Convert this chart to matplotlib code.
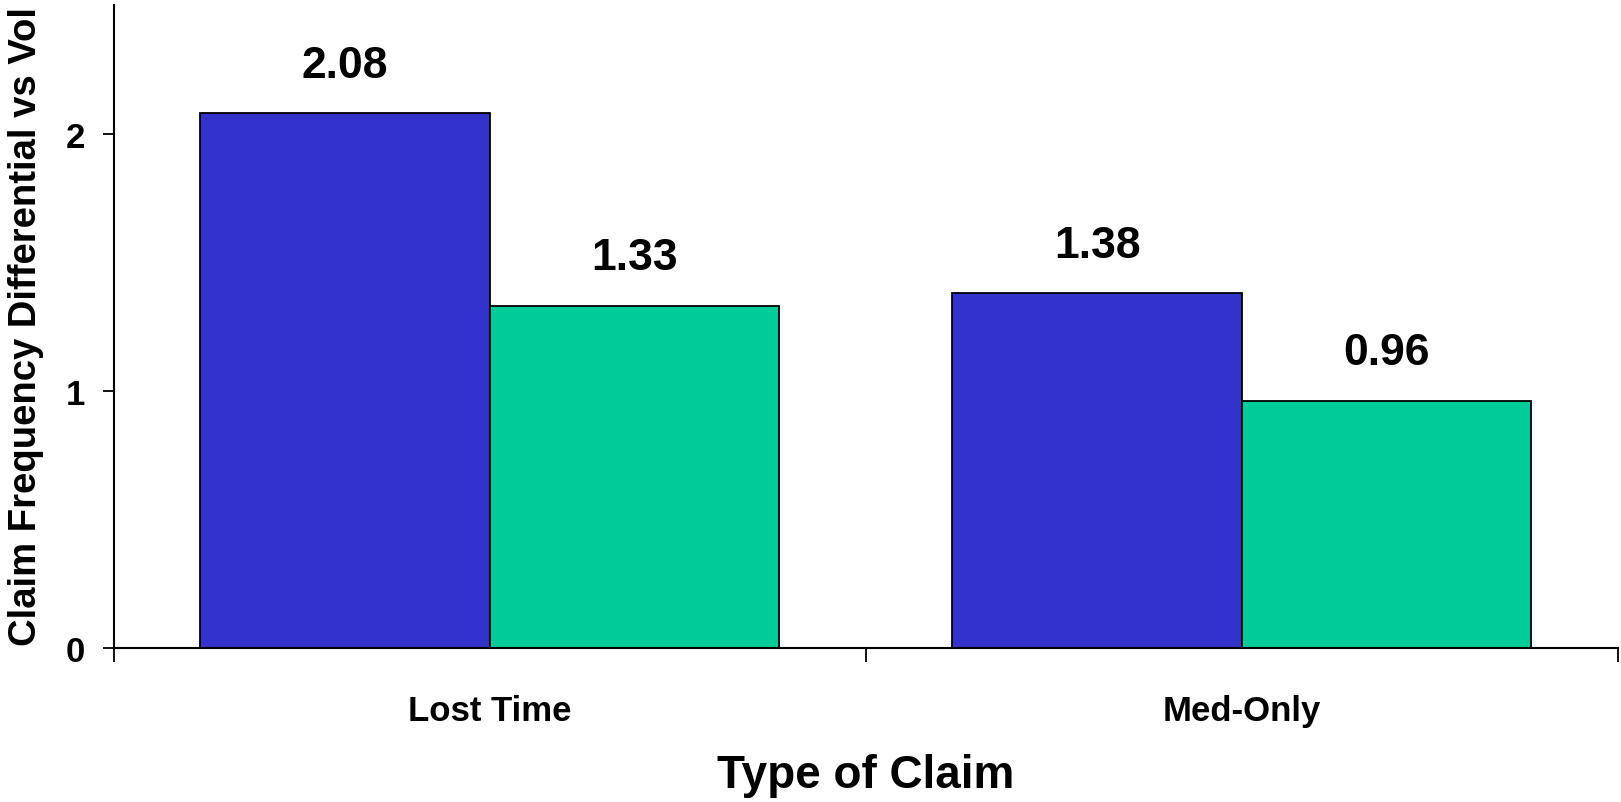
import numpy as np
import matplotlib
matplotlib.use("Agg")
import matplotlib.pyplot as plt

claim_types = ["Lost Time", "Med-Only"]
series_a    = [2.08, 1.38]
series_b    = [1.33, 0.96]
y_ticks     = [0, 1, 2]

BLUE  = "#3333CC"
GREEN = "#00CC99"

plt.rcParams["font.family"] = ["Liberation Sans", "DejaVu Sans"]
plt.rcParams["font.weight"] = "bold"

fig = plt.figure(figsize=(16.21, 8.03), dpi=100)
ax = fig.add_axes([0.0703, 0.1918, 0.9277, 0.8002])

x = np.arange(len(claim_types))
width = 0.385
bars_a = ax.bar(x - width / 2, series_a, width, color=BLUE, edgecolor="black", linewidth=1.3)
bars_b = ax.bar(x + width / 2, series_b, width, color=GREEN, edgecolor="black", linewidth=1.3)

for bars in (bars_a, bars_b):
    ax.bar_label(bars, labels=[f"{v:.2f}" for v in bars.datavalues],
                 padding=20, fontsize=32, fontweight="bold")

ax.set_xlim(-0.5, len(claim_types) - 0.5)
ax.set_ylim(0, 2.5)

# category names sit between the group-boundary tick marks
ax.set_xticks(x)
ax.set_xticklabels(claim_types, fontsize=25, fontweight="bold")
ax.tick_params(axis="x", which="major", length=0, pad=33)
ax.set_xticks(np.arange(-0.5, len(claim_types)), minor=True)
ax.tick_params(axis="x", which="minor", length=10, width=1.3, direction="out")

ax.set_yticks(y_ticks)
ax.set_yticklabels([str(t) for t in y_ticks], fontsize=25, fontweight="bold")
ax.tick_params(axis="y", length=8, width=1.3, direction="out", pad=13)

for side in ("top", "right"):
    ax.spines[side].set_visible(False)
for side in ("left", "bottom"):
    ax.spines[side].set_linewidth(1.5)

ax.set_xlabel("Type of Claim", fontsize=33, fontweight="bold")
ax.xaxis.set_label_coords(0.5, -0.163)

fig.text(26 / 1621, 1 - 326 / 803, "Claim Frequency Differential vs Vol",
         rotation=90, ha="center", va="center", fontsize=27.5, fontweight="bold")

fig.savefig("out.png", dpi=100)
